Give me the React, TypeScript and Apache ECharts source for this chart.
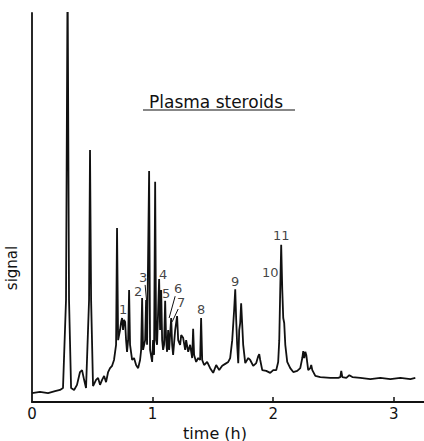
import React, { useEffect, useRef } from "react";
import * as echarts from "echarts";

// Retention time (h) and detector signal (% of full scale)
const times = [
  0, 0.066, 0.133, 0.191, 0.232, 0.257, 0.282, 0.295, 0.307, 0.324, 0.349, 0.373, 0.398, 0.415, 0.432, 0.448,
  0.473, 0.481, 0.49, 0.506, 0.531, 0.548, 0.564, 0.581, 0.598, 0.614, 0.631, 0.647, 0.664, 0.68, 0.697, 0.705,
  0.714, 0.73, 0.739, 0.747, 0.755, 0.763, 0.772, 0.78, 0.788, 0.797, 0.805, 0.813, 0.83, 0.846, 0.863, 0.88,
  0.896, 0.905, 0.913, 0.921, 0.938, 0.946, 0.954, 0.971, 0.979, 0.996, 1.004, 1.012, 1.021, 1.029, 1.037, 1.054,
  1.062, 1.071, 1.079, 1.087, 1.095, 1.104, 1.112, 1.12, 1.129, 1.137, 1.154, 1.162, 1.17, 1.187, 1.203, 1.212,
  1.228, 1.237, 1.253, 1.27, 1.278, 1.295, 1.311, 1.328, 1.336, 1.344, 1.361, 1.378, 1.394, 1.402, 1.411, 1.427,
  1.452, 1.477, 1.502, 1.527, 1.552, 1.577, 1.602, 1.627, 1.643, 1.66, 1.676, 1.685, 1.693, 1.701, 1.71, 1.718,
  1.726, 1.734, 1.743, 1.751, 1.768, 1.793, 1.809, 1.834, 1.859, 1.876, 1.884, 1.892, 1.909, 1.942, 1.975, 2.0,
  2.025, 2.041, 2.05, 2.058, 2.066, 2.075, 2.083, 2.091, 2.1, 2.116, 2.141, 2.166, 2.199, 2.224, 2.241, 2.249,
  2.257, 2.266, 2.274, 2.29, 2.307, 2.315, 2.324, 2.349, 2.39, 2.473, 2.539, 2.556, 2.564, 2.573, 2.606, 2.631,
  2.656, 2.722, 2.805, 2.888, 2.971, 3.054, 3.137, 3.178,
];
const signal = [
  2.3, 2.6, 2.3, 2.8, 3.1, 3.6, 26.2, 110, 26.2, 3.6, 3.1, 4.4, 7.7, 8.2, 5.7, 3.6,
  26.2, 64.8, 26.2, 4.1, 5.7, 6.2, 4.4, 5.7, 6.7, 5.1, 7.7, 8.7, 9.3, 10.8, 14.7, 44.7,
  15.9, 18.5, 20.6, 21.6, 18.5, 21.1, 20.6, 15.9, 12.9, 15.9, 28.8, 14.7, 10.8, 11.3, 9.5, 8.7,
  10.8, 13.4, 26.7, 13.4, 15.9, 26.2, 14.7, 59.4, 13.4, 10.3, 15.9, 12.1, 56.6, 15.9, 14.7, 31.6,
  18.5, 28.8, 15.9, 13.4, 14.7, 26.0, 15.9, 12.9, 18.5, 13.4, 21.6, 14.7, 12.1, 18.5, 22.1, 15.9,
  14.7, 17.2, 16.5, 13.4, 15.9, 12.9, 14.7, 11.3, 18.8, 12.1, 10.3, 11.3, 10.8, 21.6, 10.8, 9.5,
  10.3, 8.7, 7.5, 9.5, 8.2, 9.3, 9.8, 10.3, 11.3, 15.9, 23.7, 29.0, 21.1, 14.7, 10.0, 18.5,
  20.3, 25.4, 19.8, 14.7, 10.0, 11.3, 10.8, 9.3, 10.0, 11.8, 12.3, 10.8, 8.2, 8.0, 7.5, 8.2,
  8.2, 10.3, 15.9, 28.8, 40.4, 28.8, 21.6, 20.3, 14.7, 10.3, 8.7, 7.7, 8.0, 8.7, 11.3, 13.1,
  11.3, 12.9, 12.1, 8.2, 8.7, 9.5, 8.2, 6.7, 6.4, 6.2, 6.2, 6.4, 8.0, 6.4, 6.2, 6.9,
  6.4, 6.2, 5.9, 6.2, 5.9, 6.2, 5.9, 6.2,
];

// Peak labels: name, label time (h), label height (signal)
const peakNames = ["1", "2", "3", "4", "5", "6", "7", "8", "9", "10", "11"];
const peakLabelTimes = [0.755, 0.88, 0.921, 1.087, 1.112, 1.212, 1.237, 1.402, 1.685, 1.975, 2.066];
const peakLabelSignals = [23.7, 28.5, 32.1, 32.9, 28.0, 29.3, 25.7, 23.7, 31.1, 33.4, 42.7];

// Leader lines [t1, s1, t2, s2]
const leaders = [
  [0.938, 30.1, 0.954, 24.6],
  [1.187, 27.2, 1.137, 21.6],
  [1.212, 23.9, 1.162, 20.6],
];

const xTickLabels = [0, 1, 2, 3];

const FONT = "DejaVu Sans";

export default function App() {
  const ref = useRef<HTMLDivElement>(null);
  useEffect(() => {
    if (!ref.current) return;
    const chart = echarts.init(ref.current, null, { renderer: "svg" });
    const lineData = times.map((t, i) => [t, signal[i]]);
    const labelData = peakNames.map((n, i) => ({ name: n, value: [peakLabelTimes[i], peakLabelSignals[i]] }));
    chart.setOption({
      animation: false,
      backgroundColor: "#ffffff",
      grid: { left: 32, right: 0, top: 13, bottom: 39, containLabel: false },
      xAxis: {
        type: "value",
        min: 0,
        max: 3.25,
        interval: 1,
        axisLine: { show: true, lineStyle: { color: "#111", width: 1.8 } },
        axisTick: {
          show: true,
          inside: true,
          length: 5,
          customValues: [1, 2, 3],
          lineStyle: { color: "#111", width: 1.5 },
        },
        axisLabel: {
          customValues: xTickLabels,
          color: "#111",
          fontFamily: FONT,
          fontSize: 15,
          margin: 4,
        },
        splitLine: { show: false },
      },
      yAxis: {
        type: "value",
        min: 0,
        max: 100,
        axisLine: { show: true, lineStyle: { color: "#111", width: 1.8 } },
        axisTick: { show: false },
        axisLabel: { show: false },
        splitLine: { show: false },
      },
      series: [
        {
          type: "line",
          data: lineData,
          showSymbol: false,
          symbol: "none",
          clip: true,
          lineStyle: { color: "#111", width: 1.8 },
        },
        {
          type: "scatter",
          data: labelData,
          symbolSize: 0,
          silent: true,
          itemStyle: { color: "#111" },
          label: {
            show: true,
            position: "inside",
            formatter: "{b}",
            color: "#111",
            textBorderWidth: 0,
            fontFamily: FONT,
            fontSize: 13,
          },
          markLine: {
            silent: true,
            symbol: ["none", "none"],
            label: { show: false },
            lineStyle: { color: "#111", width: 1, type: "solid" },
            data: leaders.map((l) => [{ coord: [l[0], l[1]] }, { coord: [l[2], l[3]] }]),
          },
        },
      ],
      graphic: [
        {
          type: "text",
          left: 149,
          top: 93,
          style: { text: "Plasma steroids", fill: "#111", font: `17px "${FONT}"` },
        },
        {
          type: "line",
          shape: { x1: 143, y1: 110, x2: 295, y2: 110 },
          style: { stroke: "#111", lineWidth: 1.2 },
        },
        {
          type: "text",
          x: 215,
          y: 433,
          style: { text: "time (h)", fill: "#111", font: `16px "${FONT}"`, align: "center", verticalAlign: "middle" },
        },
        {
          type: "text",
          x: 12,
          y: 268,
          rotation: Math.PI / 2,
          style: { text: "signal", fill: "#111", font: `15px "${FONT}"`, align: "center", verticalAlign: "middle" },
        },
      ],
    });
    return () => chart.dispose();
  }, []);
  return <div ref={ref} style={{ position: "fixed", left: 0, top: 0, width: 424, height: 441 }} />;
}
